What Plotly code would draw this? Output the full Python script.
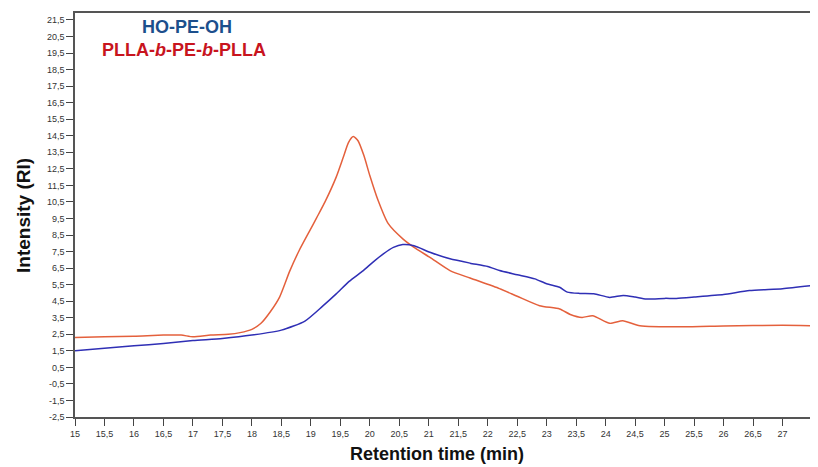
import numpy as np
import plotly.graph_objects as go

# HO-PE-OH (blue)
blue_x = [15.0, 15.5, 16.0, 16.5, 17.0, 17.5, 18.0, 18.5, 18.9, 19.2, 19.43, 19.65, 19.89,
          20.05, 20.23, 20.4, 20.56, 20.75, 21.02, 21.36, 21.7, 22.0, 22.2, 22.5, 22.8, 23.0,
          23.22, 23.35, 23.56, 23.8, 24.07, 24.3, 24.5, 24.69, 25.0, 25.2, 25.5, 26.0, 26.44,
          27.0, 27.5]
blue_y = [1.5, 1.65, 1.8, 1.95, 2.12, 2.25, 2.45, 2.75, 3.3, 4.2, 4.94, 5.7, 6.35,
          6.85, 7.36, 7.75, 7.92, 7.85, 7.46, 7.06, 6.8, 6.6, 6.35, 6.1, 5.85, 5.55,
          5.34, 5.05, 4.97, 4.95, 4.73, 4.85, 4.75, 4.63, 4.67, 4.67, 4.75, 4.9, 5.14,
          5.25, 5.44]

# PLLA-b-PE-b-PLLA (red)
red_x = [15.0, 15.5, 16.0, 16.5, 16.8, 17.0, 17.3, 17.6, 17.8, 18.0, 18.15, 18.31, 18.47,
         18.64, 18.8, 18.98, 19.1, 19.24, 19.43, 19.55, 19.64, 19.72, 19.8, 19.9, 20.0,
         20.14, 20.31, 20.56, 20.79, 21.02, 21.36, 21.7, 22.2, 22.5, 22.88, 23.22, 23.4,
         23.6, 23.78, 24.07, 24.29, 24.58, 25.3, 26.0, 27.0, 27.5]
red_y = [2.3, 2.35, 2.38, 2.45, 2.45, 2.35, 2.45, 2.5, 2.6, 2.8, 3.15, 3.85, 4.75,
         6.3, 7.55, 8.75, 9.55, 10.5, 12.0, 13.2, 14.1, 14.45, 14.2, 13.3, 12.1,
         10.6, 9.2, 8.27, 7.66, 7.15, 6.35, 5.9, 5.26, 4.8, 4.23, 4.03, 3.7,
         3.52, 3.62, 3.16, 3.32, 3.02, 2.95, 3.0, 3.05, 3.02]

x_ticks = [round(v, 1) for v in np.arange(15.0, 27.51, 0.5)]
y_ticks = [round(v, 1) for v in np.arange(-2.5, 21.51, 1.0)]


def fmt(v):
    return ("%g" % v).replace(".", ",")

FONT = "Liberation Sans, Arial"

fig = go.Figure()
fig.add_trace(go.Scatter(x=red_x, y=red_y, mode="lines",
                         line=dict(color="#e4603c", width=1.5, shape="spline", smoothing=0.6),
                         showlegend=False))
fig.add_trace(go.Scatter(x=blue_x, y=blue_y, mode="lines",
                         line=dict(color="#2f2fb5", width=1.5, shape="spline", smoothing=0.6),
                         showlegend=False))

axis_common = dict(showgrid=False, zeroline=False, showline=True, linecolor="#555555",
                   linewidth=1.5, mirror=True, ticks="outside", ticklen=7, tickwidth=1,
                   tickcolor="#444444", automargin=False,
                   tickfont=dict(family=FONT, size=9, color="#333333"))

fig.update_xaxes(range=[15, 27.5], tickvals=x_ticks, ticktext=[fmt(v) for v in x_ticks],
                 **axis_common)
fig.update_yaxes(range=[-2.5, 21.92], tickvals=y_ticks, ticktext=[fmt(v) for v in y_ticks],
                 **axis_common)

# axis titles
fig.add_annotation(x=0.5 - 7 / 737, y=-37 / 404, xref="paper", yref="paper", showarrow=False,
                   text="<b>Retention time (min)</b>", xanchor="center", yanchor="middle",
                   font=dict(family=FONT, size=18, color="#111111"))
fig.add_annotation(x=-52 / 737, y=(417 - 216) / 404, xref="paper", yref="paper", showarrow=False,
                   text="<b>Intensity (RI)</b>", textangle=-90, xanchor="center", yanchor="middle",
                   font=dict(family=FONT, size=19, color="#111111"))

# series labels
fig.add_annotation(x=0.152, y=0.965, xref="paper", yref="paper", showarrow=False,
                   text="<b>HO-PE-OH</b>", xanchor="center", yanchor="middle",
                   font=dict(family=FONT, size=18, color="#1c4f8c"))
fig.add_annotation(x=0.148, y=0.908, xref="paper", yref="paper", showarrow=False,
                   text="<b>PLLA-<i>b</i>-PE-<i>b</i>-PLLA</b>", xanchor="center", yanchor="middle",
                   font=dict(family=FONT, size=18, color="#c8141e"))

fig.update_layout(width=810, height=459, margin=dict(l=67, r=6, t=5, b=50),
                  plot_bgcolor="white", paper_bgcolor="white")

fig.write_html("out.html")
